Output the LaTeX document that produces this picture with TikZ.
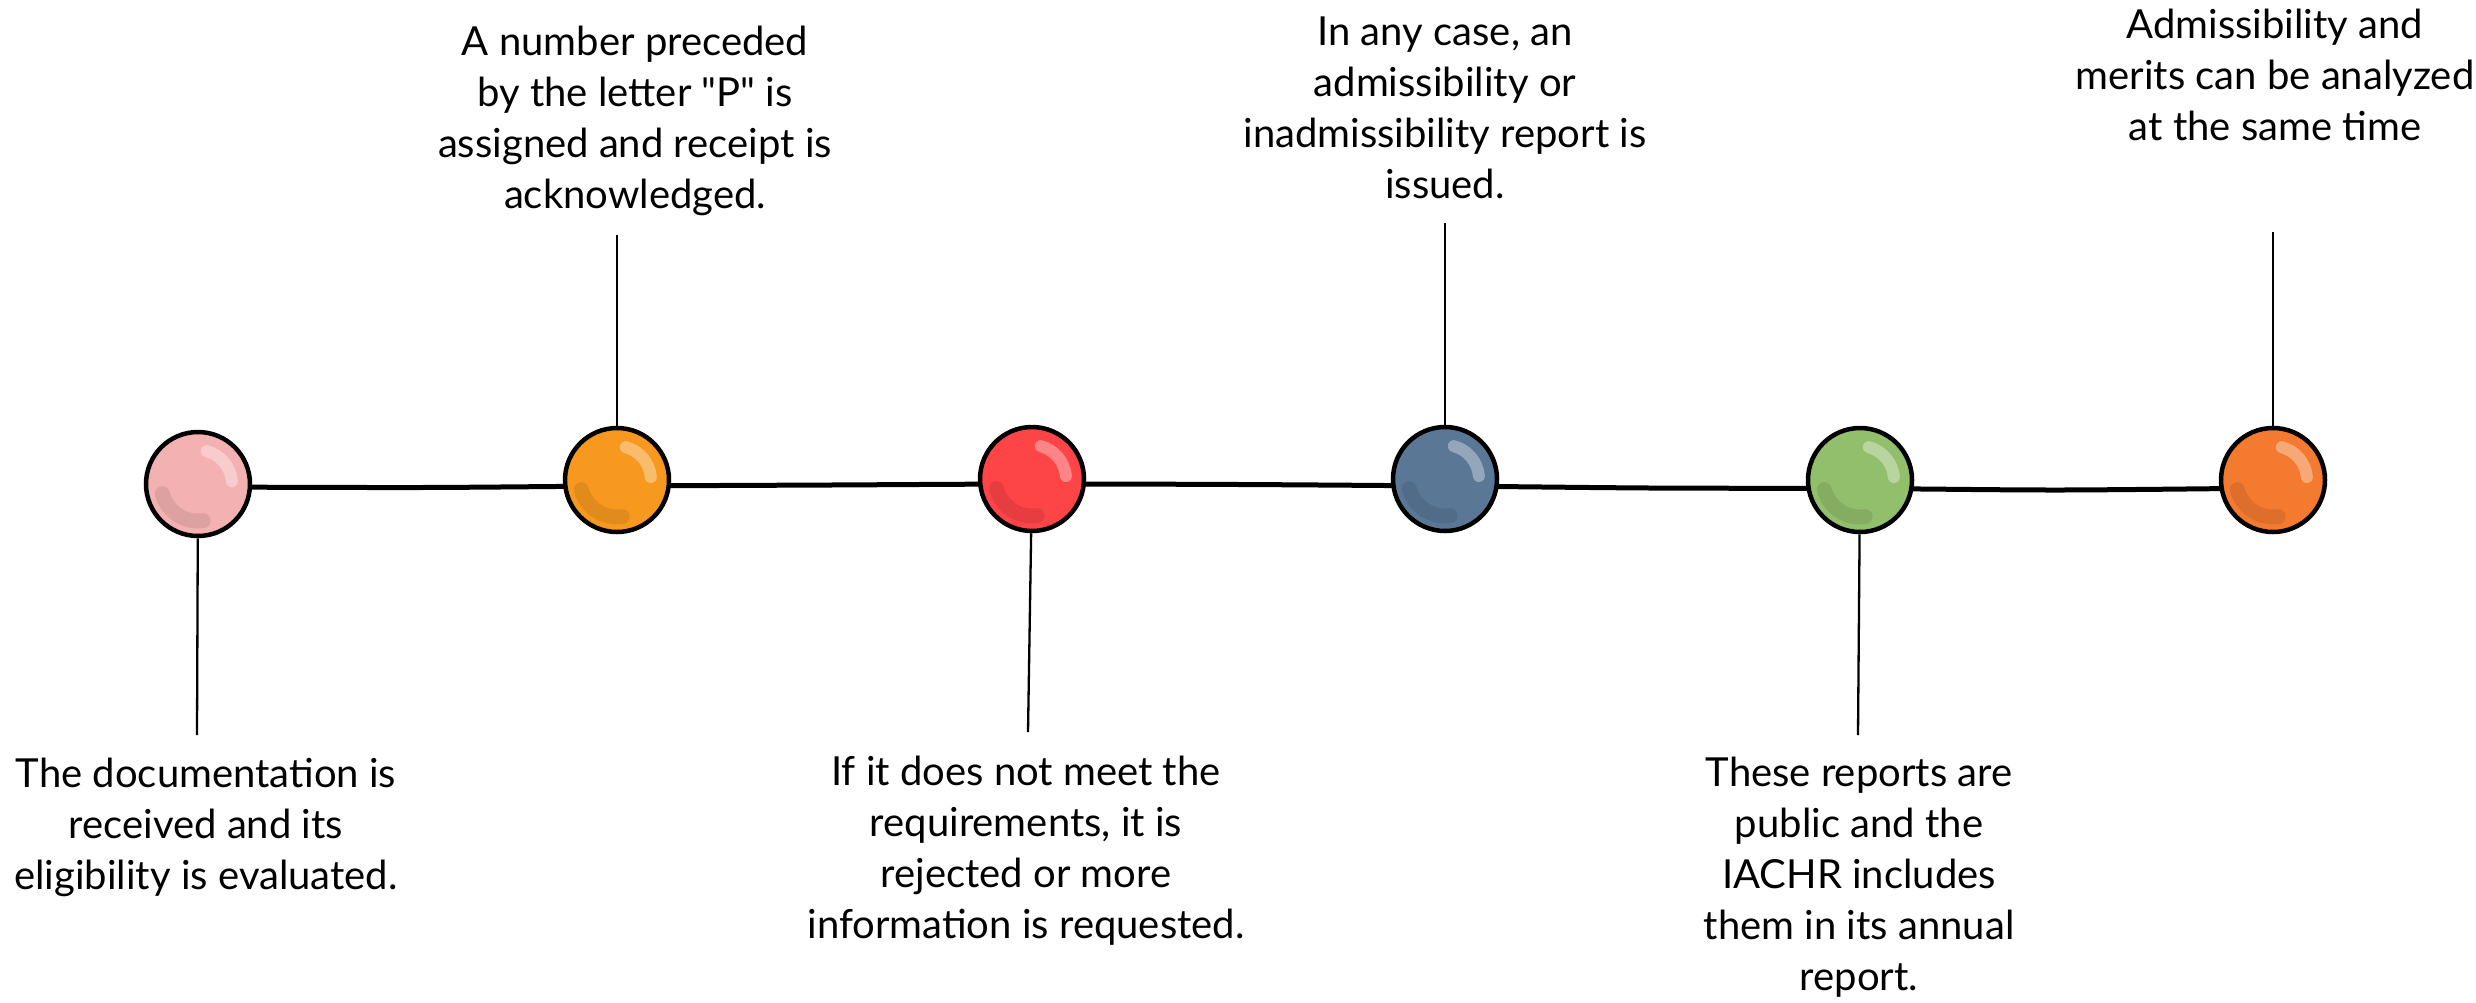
\documentclass[tikz,border=0pt]{standalone}
\usepackage{fontspec}
\setmainfont{Lato}[Ligatures=TeXOff]
\usetikzlibrary{calc}
\definecolor{cpink}{HTML}{F3B2B1}
\definecolor{corange}{HTML}{F7991F}
\definecolor{cred}{HTML}{FD4447}
\definecolor{cslate}{HTML}{5A7796}
\definecolor{cgreen}{HTML}{92BF6C}
\definecolor{cdeep}{HTML}{F47A30}
\begin{document}
\begin{tikzpicture}[x=1pt,y=-1pt,
  dot/.style={circle, draw=black, line width=4.5pt, minimum size=104pt, inner sep=0pt},
  hi/.style={white, opacity=0.35, line width=12pt, line cap=round},
  lo/.style={black, opacity=0.09, line width=15pt, line cap=round},
  mainline/.style={line width=5pt, line cap=round},
  stem/.style={line width=2.3pt},
  lbl/.style={align=center, inner sep=0pt, anchor=base, font=\fontsize{40}{51}\selectfont}]
\useasboundingbox[fill=white] (0,0) rectangle (2476,1002);
% main line
\coordinate (p0) at (198,487);
\coordinate (p1) at (420,487.5);
\coordinate (p2) at (617,486);
\coordinate (p3) at (830,485);
\coordinate (p4) at (1032,484);
\coordinate (p5) at (1240,484.5);
\coordinate (p6) at (1445,486);
\coordinate (p7) at (1650,488);
\coordinate (p8) at (1860,488.5);
\coordinate (p9) at (2060,490);
\coordinate (p10) at (2273,488);
\draw[mainline] plot[smooth, tension=0.5] coordinates {(p0) (p1) (p2) (p3) (p4) (p5) (p6) (p7) (p8) (p9) (p10)};
% circles
\node[dot, fill=cpink]   (c1) at (198,484) {};
\node[dot, fill=corange] (c2) at (617,480) {};
\node[dot, fill=cred]    (c3) at (1032,479) {};
\node[dot, fill=cslate]  (c4) at (1445,479) {};
\node[dot, fill=cgreen]  (c5) at (1860,480) {};
\node[dot, fill=cdeep]   (c6) at (2273,480) {};
\foreach \c in {c1,c2,c3,c4,c5,c6}{
  \draw[hi] ($(\c)+(75:34pt)$) arc[start angle=75, end angle=5, radius=34pt];
  \draw[lo] ($(\c)+(195:37pt)$) arc[start angle=195, end angle=278, radius=37pt];
}
% stems
\coordinate (e1) at (197,735);
\coordinate (e2) at (617,235);
\coordinate (e3) at (1028,732);
\coordinate (e4) at (1445,223);
\coordinate (e5) at (1858,735);
\coordinate (e6) at (2273,232);
\draw[stem] (c1) -- (e1);
\draw[stem] (c2) -- (e2);
\draw[stem] (c3) -- (e3);
\draw[stem] (c4) -- (e4);
\draw[stem] (c5) -- (e5);
\draw[stem] (c6) -- (e6);
% labels (anchor = baseline of the last line)
\node[lbl] (t1) at (206,889) {The documentation is\\received and its\\eligibility is evaluated.};
\node[lbl] (t2) at (635,208) {A number preceded\\by the letter "P" is\\assigned and receipt is\\acknowledged.};
\node[lbl] (t3) at (1026,938) {If it does not meet the\\requirements, it is\\rejected or more\\information is requested.};
\node[lbl] (t4) at (1445,198) {In any case, an\\admissibility or\\inadmissibility report is\\issued.};
\node[lbl] (t5) at (1859,990) {These reports are\\public and the\\IACHR includes\\them in its annual\\report.};
\node[lbl] (t6) at (2275,140) {Admissibility and\\merits can be analyzed\\at the same time};
\end{tikzpicture}
\end{document}
